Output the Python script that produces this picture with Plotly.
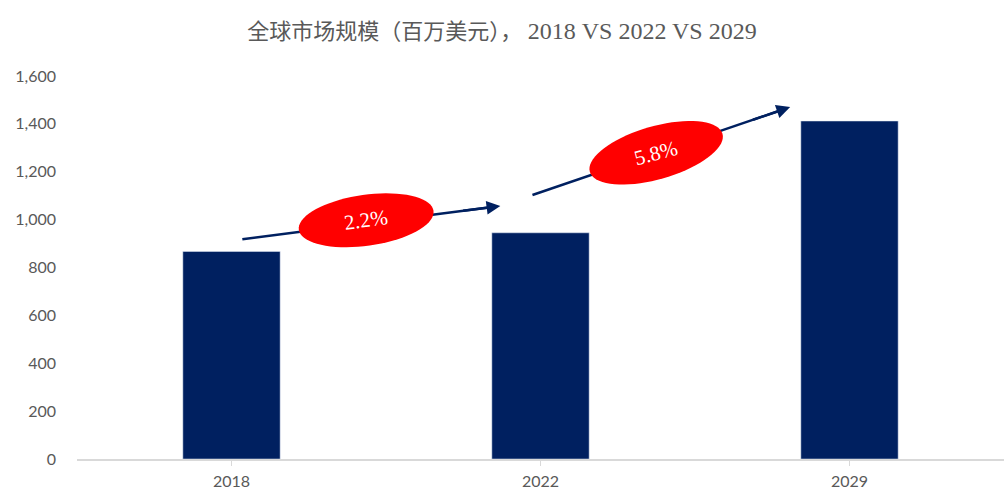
import math
import plotly.graph_objects as go

years = ["2018", "2022", "2029"]
values = [867, 945, 1412]
growth_labels = ["2.2%", "5.8%"]
# arrow endpoints: (category position, value) for start and end
arrow_starts = [(0.035, 918), (0.974, 1103)]
arrow_ends = [(0.87, 1057), (1.808, 1470)]
ytick_vals = [0, 200, 400, 600, 800, 1000, 1200, 1400, 1600]
ytick_text = ["0", "200", "400", "600", "800", "1,000", "1,200", "1,400", "1,600"]

W, H = 1004, 501
ML, MR, MT, MB = 77, 0, 76, 42
YMAX = 1600
plot_w = W - ML - MR
plot_h = H - MT - MB

def px_to_data(px, py):
    x = (px - ML) / plot_w * 3 - 0.5
    y = (H - MB - py) / plot_h * YMAX
    return x, y

def data_to_px(x, y):
    px = ML + (x + 0.5) / 3 * plot_w
    py = H - MB - y / YMAX * plot_h
    return px, py

navy = "#002060"

fig = go.Figure()
fig.add_trace(go.Bar(
    x=[0, 1, 2], y=values, marker_color=navy, width=0.315, hoverinfo="skip",
))

shapes = []
annotations = []
for i, lab in enumerate(growth_labels):
    (x0, y0), (x1, y1) = arrow_starts[i], arrow_ends[i]
    # shaft drawn as a trace so the ellipse covers it
    fig.add_trace(go.Scatter(
        x=[x0, x1 - (x1 - x0) * 0.03], y=[y0, y1 - (y1 - y0) * 0.03],
        mode="lines", line=dict(color=navy, width=2.5), hoverinfo="skip",
    ))
    # arrowhead on the last short part
    f = 0.85
    annotations.append(dict(
        x=x1, y=y1, ax=x0 + (x1 - x0) * f, ay=y0 + (y1 - y0) * f,
        xref="x", yref="y", axref="x", ayref="y",
        showarrow=True, arrowhead=2, arrowsize=1.1, arrowwidth=2.5,
        arrowcolor=navy, text="",
    ))

# ellipse definitions in pixel geometry relative to arrow
ell_params = [
    # (center fraction along arrow, semi-major, semi-minor, tilt deg, text angle, dy px)
    (0.48, 68, 25.5, 8, -8, -3),
    (0.48, 69, 26.5, 16, -15, 0),
]
for i, lab in enumerate(growth_labels):
    (x0, y0), (x1, y1) = arrow_starts[i], arrow_ends[i]
    frac, a, b, tilt, tang, dyp = ell_params[i]
    p0 = data_to_px(x0, y0)
    p1 = data_to_px(x1, y1)
    cx = p0[0] + (p1[0] - p0[0]) * frac
    cy = p0[1] + (p1[1] - p0[1]) * frac + dyp
    th = math.radians(tilt)
    pts = []
    for k in range(73):
        t = 2 * math.pi * k / 72
        ex = a * math.cos(t)
        ey = b * math.sin(t)
        px = cx + ex * math.cos(th) + ey * math.sin(th)
        py = cy - ex * math.sin(th) + ey * math.cos(th)
        dx, dy = px_to_data(px, py)
        pts.append(f"{dx:.5f},{dy:.3f}")
    path = "M " + " L ".join(pts) + " Z"
    shapes.append(dict(type="path", path=path, xref="x", yref="y",
                       fillcolor="#FF0000", line=dict(width=0), layer="above"))
    tx, ty = px_to_data(cx, cy)
    annotations.append(dict(
        x=tx, y=ty, xref="x", yref="y", text=lab, showarrow=False,
        textangle=tang, font=dict(family="Liberation Serif", size=21, color="white"),
    ))

fig.update_layout(
    width=W, height=H,
    margin=dict(l=ML, r=MR, t=MT, b=MB),
    paper_bgcolor="white", plot_bgcolor="white",
    showlegend=False,
    title=dict(
        text="全球市场规模（百万美元）， <span style='font-size:24px'>2018 VS 2022 VS 2029</span>",
        x=0.5, xanchor="center", y=1 - 31 / H, yanchor="middle",
        font=dict(family="Liberation Serif, Noto Sans CJK SC", size=22, color="#595959"),
    ),
    xaxis=dict(
        tickmode="array", tickvals=[0, 1, 2], ticktext=years,
        range=[-0.5, 2.5], showgrid=False, zeroline=False,
        showline=True, linecolor="#D9D9D9", linewidth=1.5,
        ticks="outside", ticklen=5, tickcolor="#D9D9D9",
        tickfont=dict(family="Lato", size=16, color="#595959"),
        ticklabelstandoff=2, tickson="boundaries",
    ),
    yaxis=dict(
        range=[0, YMAX], tickvals=ytick_vals, ticktext=ytick_text,
        showgrid=False, zeroline=False, showline=False,
        tickfont=dict(family="Lato", size=16, color="#595959"),
        ticklabelstandoff=20,
    ),
    shapes=shapes,
    annotations=annotations,
)

fig.write_html("out.html", config={"displayModeBar": False},
               post_script="document.body.style.margin='0';")
